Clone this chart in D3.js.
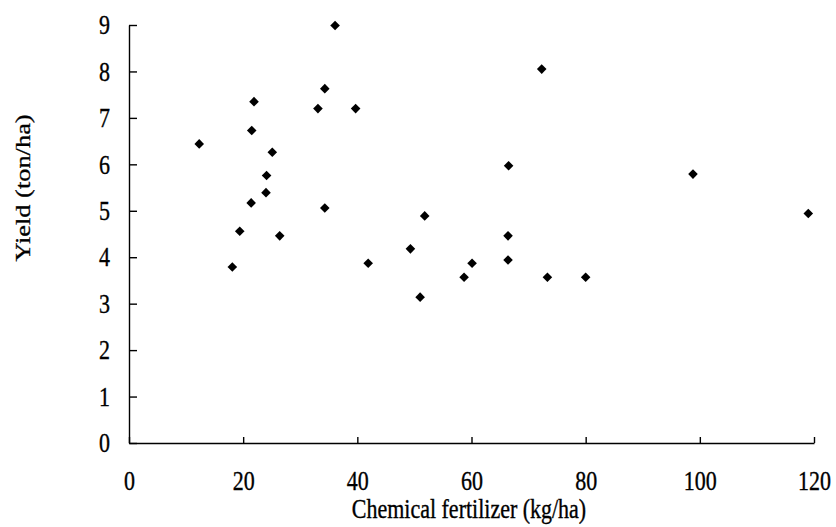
<!DOCTYPE html>
<html lang="en">
<head>
	<meta charset="UTF-8">
	<script src="https://d3js.org/d3.v7.min.js"></script>
	<title>Yield vs chemical fertilizer</title>
	<style>
		body { margin: 0; background: #fff; }
		svg { display: block; }
		text { font-family: "Liberation Serif", "Times New Roman", serif; fill: #000; stroke: #000; stroke-width: 0.3px; }
	</style>
</head>
<body>
	<svg width="836" height="527"></svg>

	<script>
		// fertilizer (kg/ha) and yield (ton/ha)
		const fertilizer = [12.3, 21.9, 21.5, 25.1, 24.1, 24.0, 21.4, 19.4, 26.4, 36.1,
			34.3, 33.1, 39.7, 34.3, 51.8, 49.3, 18.1, 41.9, 51.0, 58.7,
			60.1, 72.3, 66.5, 98.8, 119.0, 66.4, 66.4, 73.3, 80.0];
		const yieldTon = [6.44, 7.35, 6.73, 6.26, 5.76, 5.39, 5.17, 4.56, 4.46, 8.99,
			7.63, 7.20, 7.20, 5.06, 4.89, 4.18, 3.79, 3.87, 3.14, 3.57,
			3.87, 8.05, 5.97, 5.79, 4.94, 4.46, 3.94, 3.57, 3.57];
		const xTicks = [0, 20, 40, 60, 80, 100, 120];
		const yTicks = [0, 1, 2, 3, 4, 5, 6, 7, 8, 9];

		const margin = { top: 25, left: 129 };
		const width = 685;
		const height = 418;
		const stretch = 1.2; // the printed figure's type is tall and narrow

		const svg = d3.select('svg');
		const g = svg.append('g').attr('transform', `translate(${margin.left},${margin.top})`);

		const x = d3.scaleLinear().domain([0, 120]).range([0, width]);
		const y = d3.scaleLinear().domain([0, 9]).range([height, 0]);

		const xAxis = g.append('g')
			.attr('transform', `translate(0,${height})`)
			.call(d3.axisBottom(x).tickValues(xTicks).tickSizeInner(-6).tickSizeOuter(0));

		const yAxis = g.append('g')
			.call(d3.axisLeft(y).tickValues(yTicks).tickSizeInner(-8).tickSizeOuter(0));

		[xAxis, yAxis].forEach(a => {
			a.selectAll('path, line').attr('stroke', '#000').attr('stroke-width', 1.4);
			a.selectAll('text').style('font-size', '22px').attr('x', 0).attr('y', 0);
		});
		xAxis.selectAll('text').attr('dy', 0).attr('transform', `translate(0,47) scale(1,${stretch})`);
		yAxis.selectAll('text').attr('dy', '0.33em').attr('transform', `translate(-19,0) scale(1,${stretch})`);

		const data = fertilizer.map((f, i) => ({ f: f, v: yieldTon[i] }));
		const diamond = d3.symbol().type(d3.symbolSquare).size(46);

		g.append('g')
			.selectAll('path')
			.data(data)
			.enter()
			.append('path')
			.attr('d', diamond)
			.attr('transform', d => `translate(${x(d.f)},${y(d.v)}) rotate(45)`)
			.attr('fill', '#000');

		svg.append('text')
			.attr('transform', `translate(469,518) scale(1,${stretch})`)
			.attr('text-anchor', 'middle')
			.style('font-size', '22px')
			.text('Chemical fertilizer (kg/ha)');

		svg.append('text')
			.attr('transform', `translate(30,188) rotate(-90) scale(${stretch},1)`)
			.attr('text-anchor', 'middle')
			.style('font-size', '22px')
			.text('Yield (ton/ha)');
	</script>
</body>
</html>
